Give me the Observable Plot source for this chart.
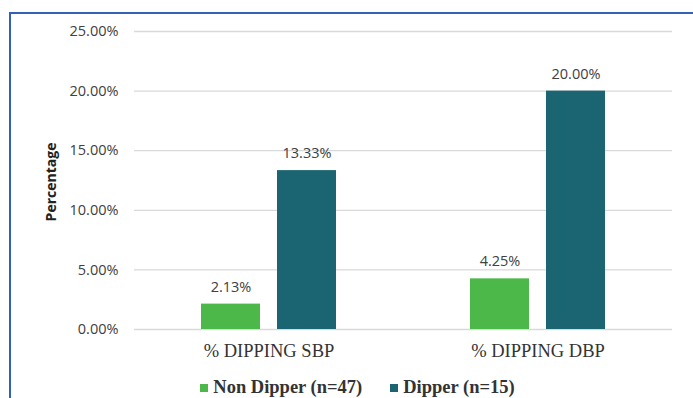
<!DOCTYPE html>
<html>
<head>
<meta charset="utf-8">
<script src="https://cdn.jsdelivr.net/npm/d3@7"></script>
<script src="https://cdn.jsdelivr.net/npm/@observablehq/plot@0.6"></script>
<style>
  html, body { margin: 0; padding: 0; background: #fff; }
  #wrap { position: relative; width: 693px; height: 398px; overflow: hidden; }
  #frame { position: absolute; left: 9px; top: 12px; width: 700px; height: 400px;
           border-top: 2px solid #3560b8; border-left: 2px solid #3560b8; box-sizing: border-box; }
  #chart { position: absolute; left: 0; top: 0; }
  #ytitle { position: absolute; left: 50px; top: 182px; transform: translate(-50%, -50%) rotate(-90deg);
            font-family: "Open Sans", "Liberation Sans", sans-serif; font-weight: bold; font-size: 14px; color: #222; white-space: nowrap; }
  #legend { position: absolute; left: 0; top: 377px; width: 693px; box-sizing: border-box; padding-left: 22px;
            display: flex; justify-content: center;
            font-family: "Liberation Serif", "DejaVu Serif", serif; font-weight: bold; font-size: 18.5px; color: #333; }
  .item { display: flex; align-items: center; margin: 0 14px; }
  .sw { width: 8px; height: 8px; margin-right: 5px; }
</style>
</head>
<body>
<div id="wrap">
  <div id="frame"></div>
  <div id="chart"></div>
  <div id="ytitle">Percentage</div>
  <div id="legend"></div>
</div>
<script>
const categories = ["% DIPPING SBP", "% DIPPING DBP"];
const series = ["Non Dipper (n=47)", "Dipper (n=15)"];
const nonDipper = [0.0213, 0.0425];
const dipper = [0.1333, 0.2000];
const yTicks = [0, 0.05, 0.10, 0.15, 0.20, 0.25];
const colors = ["#4cb84a", "#1a6571"];

const data = [];
categories.forEach((c, i) => {
  data.push({category: c, series: series[0], value: nonDipper[i]});
  data.push({category: c, series: series[1], value: dipper[i]});
});

const fmt = d3.format(".2%");

const chart = Plot.plot({
  width: 693,
  height: 372,
  marginLeft: 134,
  marginRight: 21,
  marginTop: 31,
  marginBottom: 43,
  style: {fontFamily: "'Open Sans', 'Liberation Sans', sans-serif", fontSize: "14px", color: "#404040", background: "transparent"},
  fx: {domain: categories, padding: 0, label: null},
  x: {domain: series, paddingInner: 0.22, paddingOuter: 0.857, axis: null},
  y: {domain: [0, 0.25], ticks: yTicks, label: null},
  color: {domain: series, range: colors},
  marks: [
    Plot.gridY(yTicks, {stroke: "#d9d9d9", strokeOpacity: 1, strokeWidth: 1.3}),
    Plot.axisY(yTicks, {tickFormat: fmt, tickSize: 0, tickPadding: 16, fontSize: 14.5, fill: "#404040", label: null}),
    Plot.axisFx({anchor: "bottom", tickSize: 0, tickPadding: 14, fontSize: 18.5, fill: "#333", label: null}),
    Plot.barY(data, {fx: "category", x: "series", y: "value", fill: "series"}),
    Plot.text(data, {fx: "category", x: "series", y: "value", text: d => fmt(d.value), dy: -17, fontSize: 14.5, fill: "#404040"})
  ]
});
chart.querySelectorAll('[aria-label="fx-axis tick label"]').forEach(g => {
  g.setAttribute("font-family", "'Liberation Serif', 'DejaVu Serif', serif");
  g.style.fontFamily = "'Liberation Serif', 'DejaVu Serif', serif";
});
document.getElementById("chart").appendChild(chart);

const legend = document.getElementById("legend");
series.forEach((s, i) => {
  const it = document.createElement("div");
  it.className = "item";
  const sw = document.createElement("div");
  sw.className = "sw";
  sw.style.background = colors[i];
  it.appendChild(sw);
  const t = document.createElement("span");
  t.textContent = s;
  it.appendChild(t);
  legend.appendChild(it);
});
</script>
</body>
</html>
